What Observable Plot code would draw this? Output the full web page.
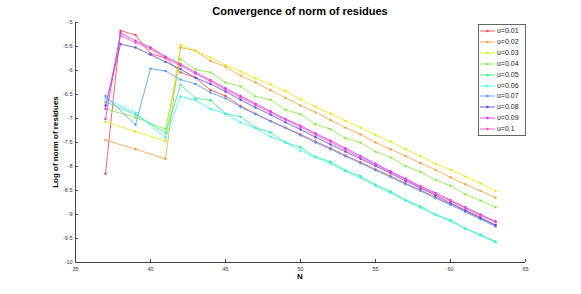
<!DOCTYPE html>
<html><head><meta charset="utf-8">
<script src="https://cdn.jsdelivr.net/npm/d3@7"></script>
<script src="https://cdn.jsdelivr.net/npm/@observablehq/plot@0.6"></script>
<style>
body{margin:0;background:#fff;font-family:"Liberation Sans",Arial,sans-serif;}
#wrap{position:relative;width:581px;height:294px;overflow:hidden;}
#wrap svg{position:absolute;left:0;top:0;}
.title{position:absolute;left:0;width:600px;top:5px;text-align:center;font-weight:bold;font-size:11px;color:#000;}
.xlab{position:absolute;left:250px;width:100px;top:272px;text-align:center;font-weight:bold;font-size:8px;}
.ylab{position:absolute;left:-44px;width:200px;top:137px;text-align:center;font-weight:bold;font-size:8px;transform:rotate(-90deg);transform-origin:100px 5px;}
#legend{position:absolute;left:478px;top:24px;width:48px;height:112px;border:1px solid #666;background:#fff;box-sizing:border-box;}
.lr{position:absolute;left:0;height:10px;font-size:7px;line-height:10px;white-space:nowrap;}
.lr svg{position:absolute;left:2px;top:0;}
.lr span{position:absolute;left:18px;top:0;color:#222;}
</style></head>
<body><div id="wrap"></div>
<script>
const N = [37,38,39,40,41,42,43,44,45,46,47,48,49,50,51,52,53,54,55,56,57,58,59,60,61,62,63];
const nu001 = [-8.15,-5.17,-5.26,-5.65,-5.74,-6.04,-6.15,-6.41,-6.53,-6.74,-6.90,-7.05,-7.19,-7.33,-7.48,-7.62,-7.77,-7.91,-8.06,-8.20,-8.35,-8.49,-8.64,-8.78,-8.93,-9.08,-9.23];
const nu002 = [-7.45,null,-7.64,null,-7.84,-5.52,-5.59,-5.80,-5.92,-6.11,-6.25,-6.41,-6.57,-6.73,-6.87,-7.03,-7.19,-7.33,-7.50,-7.64,-7.78,-7.93,-8.07,-8.23,-8.37,-8.51,-8.65];
const nu003 = [-7.07,null,-7.27,null,-7.47,-5.47,-5.59,-5.73,-5.89,-6.02,-6.16,-6.29,-6.43,-6.60,-6.76,-6.90,-7.05,-7.19,-7.34,-7.48,-7.64,-7.78,-7.94,-8.07,-8.21,-8.35,-8.51];
const nu004 = [-6.80,null,-6.98,null,-7.22,-5.76,-5.98,-6.04,-6.25,-6.33,-6.54,-6.61,-6.82,-6.91,-7.12,-7.22,-7.41,-7.50,-7.69,-7.81,-7.99,-8.11,-8.28,-8.40,-8.58,-8.71,-8.85];
const nu005 = [-6.65,null,-6.92,null,-7.30,-6.30,-6.58,-6.62,-6.90,-6.96,-7.19,-7.29,-7.50,-7.60,-7.80,-7.90,-8.08,-8.20,-8.38,-8.52,-8.70,-8.83,-9.00,-9.12,-9.29,-9.42,-9.56];
const nu006 = [-6.58,null,-6.88,null,-7.40,-6.54,-6.62,-6.80,-6.90,-7.08,-7.20,-7.38,-7.50,-7.67,-7.81,-7.94,-8.10,-8.24,-8.40,-8.55,-8.71,-8.86,-9.01,-9.14,-9.30,-9.44,-9.58];
const nu007 = [-6.53,null,-7.13,-5.96,-6.01,-6.19,-6.28,-6.46,-6.58,-6.76,-6.91,-7.06,-7.20,-7.35,-7.50,-7.64,-7.79,-7.93,-8.08,-8.22,-8.37,-8.51,-8.66,-8.80,-8.95,-9.10,-9.25];
const nu008 = [-6.73,-5.45,-5.52,-5.67,-5.82,-5.97,-6.15,-6.28,-6.44,-6.61,-6.77,-6.92,-7.08,-7.23,-7.39,-7.54,-7.69,-7.84,-7.99,-8.14,-8.30,-8.45,-8.60,-8.76,-8.91,-9.06,-9.22];
const nu009 = [-7.01,-5.22,-5.38,-5.52,-5.71,-5.87,-6.04,-6.20,-6.37,-6.53,-6.69,-6.85,-7.01,-7.15,-7.31,-7.46,-7.62,-7.78,-7.94,-8.10,-8.25,-8.41,-8.55,-8.70,-8.85,-9.00,-9.14];
const nu010 = [-6.80,-5.27,-5.42,-5.55,-5.74,-5.90,-6.07,-6.23,-6.40,-6.56,-6.72,-6.88,-7.03,-7.18,-7.34,-7.49,-7.65,-7.81,-7.96,-8.12,-8.27,-8.43,-8.57,-8.72,-8.87,-9.02,-9.16];
const labels = ["υ=0.01","υ=0.02","υ=0.03","υ=0.04","υ=0.05","υ=0.06","υ=0.07","υ=0.08","υ=0.09","υ=0.1"];
const colors = ["#ff4444","#ffa040","#dcec10","#80ee40","#30ee88","#40f4f0","#4a9cff","#5050e8","#d830f0","#ff50c0"];
const seriesValues = [nu001,nu002,nu003,nu004,nu005,nu006,nu007,nu008,nu009,nu010];
const xTicks = [35,40,45,50,55,60,65];
const yTicks = [-10,-9.5,-9,-8.5,-8,-7.5,-7,-6.5,-6,-5.5,-5];

const rows = seriesValues.flatMap((vals, si) =>
  N.map((n, i) => ({N: n, v: vals[i], s: labels[si]})).filter(d => d.v != null));

const chart = Plot.plot({
  width: 581, height: 294,
  marginLeft: 75, marginRight: 56, marginTop: 22, marginBottom: 32,
  style: {fontFamily: "'Liberation Sans', Arial, sans-serif", background: "transparent"},
  x: {domain: [35, 65]},
  y: {domain: [-10, -5]},
  color: {domain: labels, range: colors},
  marks: [
    Plot.ruleX([35], {stroke: "#444", strokeWidth: 1}),
    Plot.ruleY([-10], {stroke: "#444", strokeWidth: 1}),
    Plot.axisX({ticks: xTicks, tickSize: -3, tickPadding: 8, fontSize: 5.5, stroke: "#444", fill: "#333", label: null, tickFormat: d => String(d)}),
    Plot.axisY({ticks: yTicks, tickSize: -3, tickPadding: 6, fontSize: 5.5, stroke: "#444", fill: "#333", label: null, tickFormat: d => String(d)}),
    Plot.line(rows, {x: "N", y: "v", stroke: "s", z: "s", strokeWidth: 0.9, strokeOpacity: 0.9}),
    Plot.dot(rows, {x: "N", y: "v", fill: "s", r: 1.2})
  ]
});
const wrap = document.getElementById("wrap");
wrap.appendChild(chart);

const t = document.createElement("div"); t.className = "title"; t.textContent = "Convergence of norm of residues"; wrap.appendChild(t);
const xl = document.createElement("div"); xl.className = "xlab"; xl.textContent = "N"; wrap.appendChild(xl);
const yl = document.createElement("div"); yl.className = "ylab"; yl.textContent = "Log of norm of residues"; wrap.appendChild(yl);

const lg = document.createElement("div"); lg.id = "legend"; wrap.appendChild(lg);
labels.forEach((lab, i) => {
  const r = document.createElement("div"); r.className = "lr";
  r.style.top = (1 + i * 10.9) + "px";
  r.innerHTML = `<svg width="16" height="10"><line x1="1" y1="5" x2="16" y2="5" stroke="${colors[i]}" stroke-width="0.9"/><circle cx="8.5" cy="5" r="1.2" fill="${colors[i]}"/></svg><span>${lab}</span>`;
  lg.appendChild(r);
});
</script>
</body></html>
